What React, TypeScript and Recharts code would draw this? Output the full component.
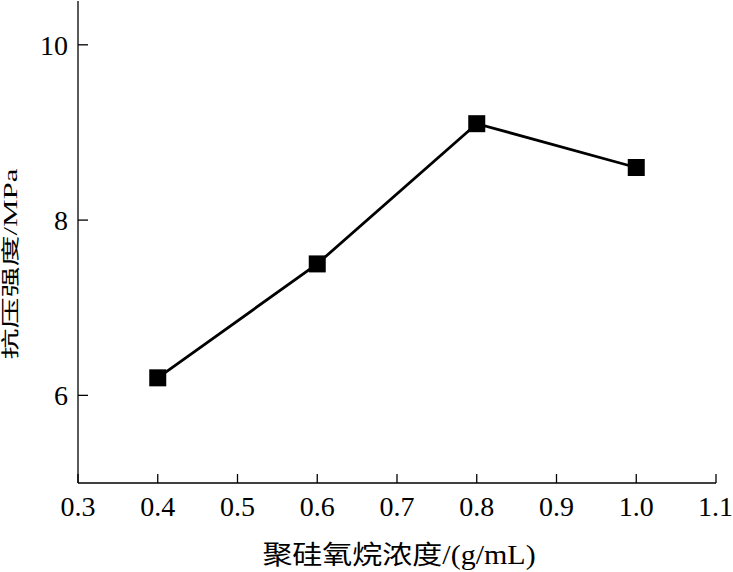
import React from 'react';
import { LineChart, Line, XAxis, YAxis } from 'recharts';

const concentrations = [0.4, 0.6, 0.8, 1.0];
const strengths = [6.2, 7.5, 9.1, 8.6];
const xTicks = [0.3, 0.4, 0.5, 0.6, 0.7, 0.8, 0.9, 1.0, 1.1];
const yTicks = [6, 8, 10];

const data = concentrations.map((c, i) => ({ c, v: strengths[i] }));

const FONT = '"Liberation Serif", "Times New Roman", "Noto Sans CJK SC", serif';

const SquareDot = (props: any) => {
  const { cx, cy, index } = props;
  const s = 17;
  return <rect key={`dot-${index}`} x={cx - s / 2} y={cy - s / 2} width={s} height={s} fill="#000" />;
};

// y title is squeezed across its height in the source image
const YLabel = (props: any) => {
  const { x, y, height } = props.viewBox;
  const cx = x + 11;
  const cy = y + height / 2 + 22;
  return (
    <text
      x={0}
      y={0}
      transform={`translate(${cx}, ${cy}) rotate(-90) scale(1, 0.6)`}
      textAnchor="middle"
      dominantBaseline="central"
      fontSize={31}
      fontFamily={FONT}
      fill="#000"
    >
      抗压强度/MPa
    </text>
  );
};

const XLabel = (props: any) => {
  const { x, y, width } = props.viewBox;
  const cx = x + width / 2 + 2;
  const cy = y + 72;
  return (
    <text
      x={0}
      y={0}
      transform={`translate(${cx}, ${cy}) scale(1, 0.88)`}
      textAnchor="middle"
      dominantBaseline="central"
      fontSize={30}
      fontFamily={FONT}
      fill="#000"
    >
      聚硅氧烷浓度/(g/mL)
    </text>
  );
};

export default function App() {
  return (
    <div style={{ position: 'absolute', left: 0, top: 0, background: '#fff' }}>
      <LineChart width={733} height={572} data={data} margin={{ top: 1, right: 17, bottom: 0, left: 0 }}>
        <XAxis
          dataKey="c"
          type="number"
          domain={[0.3, 1.1]}
          ticks={xTicks}
          tickFormatter={(v: number) => v.toFixed(1)}
          height={89}
          axisLine={{ stroke: '#000', strokeWidth: 1.3 }}
          tickLine={{ stroke: '#000', strokeWidth: 1.3 }}
          tickSize={-9}
          tickMargin={22}
          tick={{ fill: '#000', fontSize: 28, fontFamily: FONT }}
          label={<XLabel />}
        />
        <XAxis
          xAxisId="top"
          orientation="top"
          dataKey="c"
          type="number"
          domain={[0.3, 1.1]}
          height={0}
          tick={false}
          tickLine={false}
          axisLine={{ stroke: '#000', strokeWidth: 2.5 }}
        />
        <YAxis
          type="number"
          domain={[5, 10.5]}
          ticks={yTicks}
          width={78}
          axisLine={{ stroke: '#000', strokeWidth: 1.3 }}
          tickLine={{ stroke: '#000', strokeWidth: 1.3 }}
          tickSize={-10}
          tickMargin={20}
          tick={{ fill: '#000', fontSize: 28, fontFamily: FONT }}
          label={<YLabel />}
        />
        <YAxis
          yAxisId="right"
          orientation="right"
          type="number"
          domain={[5, 10.5]}
          width={0}
          tick={false}
          tickLine={false}
          axisLine={{ stroke: '#000', strokeWidth: 2.5 }}
        />
        <Line
          dataKey="v"
          stroke="#000"
          strokeWidth={2.8}
          dot={<SquareDot />}
          activeDot={false}
          isAnimationActive={false}
        />
      </LineChart>
    </div>
  );
}
